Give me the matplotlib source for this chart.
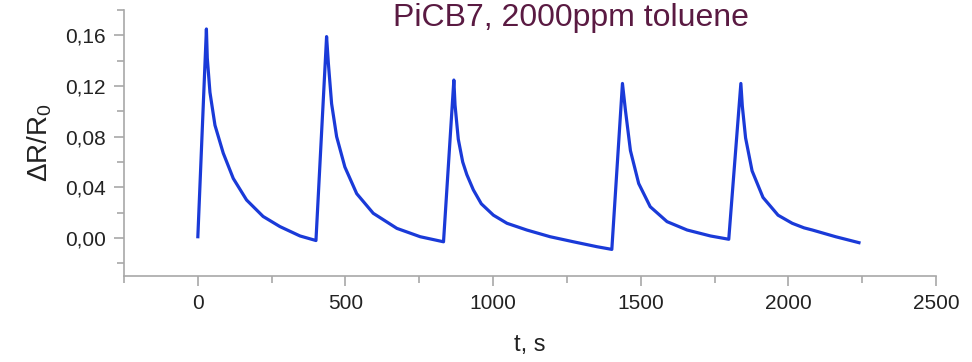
import matplotlib
matplotlib.use('Agg')
import matplotlib.pyplot as plt
from matplotlib.ticker import MultipleLocator, FuncFormatter

plt.rcParams['font.family'] = ['Liberation Sans', 'DejaVu Sans']
plt.rcParams['mathtext.fontset'] = 'custom'
plt.rcParams['mathtext.rm'] = 'Liberation Sans'
plt.rcParams['mathtext.it'] = 'Liberation Sans'

# time (s) and response
t = [0, 29, 32, 41, 58, 86, 120, 165, 221, 278, 346, 400,
     436, 442, 453, 470, 498, 538, 594, 674, 753, 832,
     867, 871, 882, 897, 911, 933, 960, 1001, 1047, 1080, 1114, 1193, 1272, 1352, 1402,
     1438, 1448, 1465, 1493, 1532, 1589, 1657, 1736, 1798,
     1839, 1844, 1855, 1877, 1914, 1965, 2013, 2053, 2081, 2160, 2239]
dr = [0.001, 0.165, 0.142, 0.115, 0.089, 0.067, 0.047, 0.030, 0.017, 0.009, 0.0016, -0.002,
      0.159, 0.138, 0.106, 0.080, 0.056, 0.035, 0.0195, 0.0076, 0.001, -0.003,
      0.1247, 0.105, 0.078, 0.060, 0.050, 0.038, 0.027, 0.018, 0.0116, 0.009, 0.0063, 0.001, -0.003, -0.0069, -0.009,
      0.122, 0.101, 0.069, 0.043, 0.0247, 0.0129, 0.0063, 0.0016, -0.001,
      0.122, 0.104, 0.079, 0.053, 0.032, 0.018, 0.0116, 0.008, 0.0063, 0.001, -0.0037]

title = 'PiCB7, 2000ppm toluene'

fig = plt.figure(figsize=(9.72, 3.62), dpi=100)
ax = fig.add_axes([0.1276, 0.2376, 0.8354, 0.7348])

ax.plot(t, dr, color='#1a3ad8', lw=2.3, solid_joinstyle='round')

ax.set_xlim(-250, 2500)
ax.set_ylim(-0.03, 0.18)
ax.xaxis.set_major_locator(MultipleLocator(500))
ax.xaxis.set_minor_locator(MultipleLocator(250))
ax.yaxis.set_major_locator(MultipleLocator(0.04))
ax.yaxis.set_minor_locator(MultipleLocator(0.02))
ax.yaxis.set_major_formatter(FuncFormatter(lambda v, p: f'{v:.2f}'.replace('.', ',')))

for s in ['top', 'right']:
    ax.spines[s].set_visible(False)
for s in ['left', 'bottom']:
    ax.spines[s].set_color('#a8a8a8')
    ax.spines[s].set_linewidth(1.2)

ax.tick_params(which='both', direction='out', color='#a8a8a8', width=1.2,
               labelsize=15, labelcolor='#222222')
ax.tick_params(which='major', length=7, pad=6)
ax.tick_params(which='minor', length=5)

ax.set_xlabel('t, s', fontsize=17, color='#222222', labelpad=15)
ax.set_ylabel(r'$\mathregular{\Delta R/R_0}$', fontsize=20, color='#222222', labelpad=8)

fig.text(0.587, 0.95, title, fontsize=23, color='#5a1a42', ha='center', va='center')

fig.savefig('out.png', dpi=100)
